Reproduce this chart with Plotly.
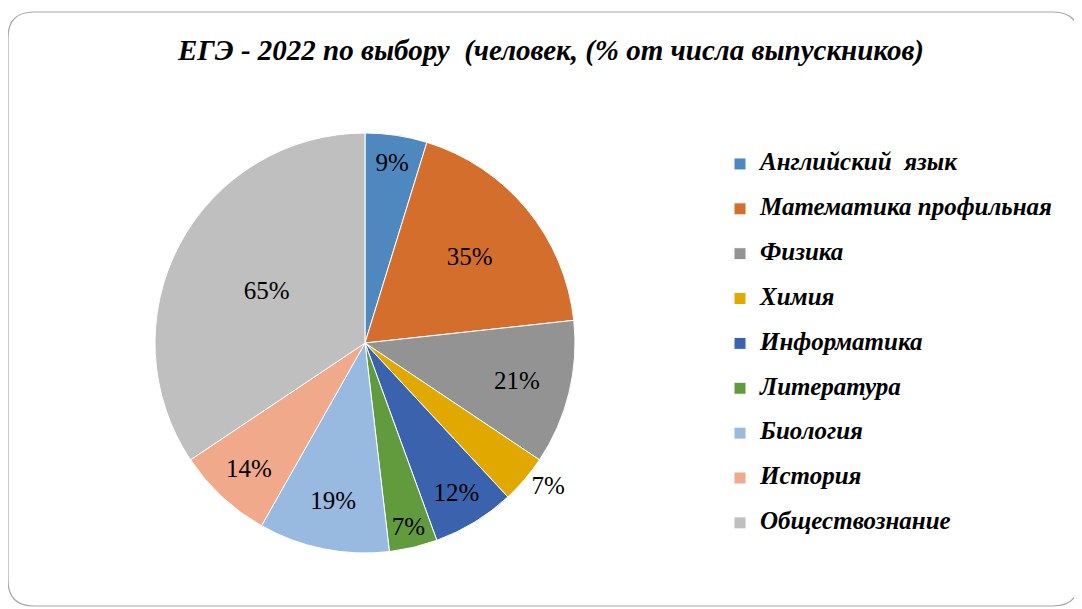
import plotly.graph_objects as go

subjects = ["Английский  язык", "Математика профильная", "Физика", "Химия",
            "Информатика", "Литература", "Биология", "История", "Обществознание"]
percents = [9, 35, 21, 7, 12, 7, 19, 14, 65]
colors = ["#4F88BF", "#D46E2C", "#939393", "#E1A800", "#3B63AD",
          "#629A3E", "#98B9E0", "#F0A98A", "#BFBFBF"]
positions = ["inside", "inside", "inside", "outside", "inside",
             "inside", "inside", "inside", "inside"]
title_text = "ЕГЭ - 2022 по выбору  (человек, (% от числа выпускников)"

SERIF = "Liberation Serif, Times New Roman, Tinos, DejaVu Serif, serif"
W, H = 1082, 609
OFF = 8  # page body margin
def px(x): return (x - OFF) / W
def py(y): return 1 - (y - OFF) / H

legend_names = [f"<span style='font-size:25px'>{s}</span><br> " for s in subjects]

fig = go.Figure(go.Pie(
    labels=legend_names,
    values=percents,
    text=[f"{p}%" for p in percents],
    textinfo="text",
    textposition=positions,
    insidetextorientation="horizontal",
    sort=False,
    direction="clockwise",
    rotation=0,
    marker=dict(colors=colors, line=dict(color="white", width=1)),
    textfont=dict(family=SERIF, size=25, color="black"),
    hoverinfo="skip",
    domain=dict(x=[px(155), px(575)], y=[py(553), py(133)]),
))

# rounded frame
x0, y0, x1, y1, r = 8, 12, 1079, 606, 26
path = (f"M {px(x0 + r)},{py(y0)} L {px(x1 - r)},{py(y0)} "
        f"Q {px(x1)},{py(y0)} {px(x1)},{py(y0 + r)} "
        f"L {px(x1)},{py(y1 - r)} Q {px(x1)},{py(y1)} {px(x1 - r)},{py(y1)} "
        f"L {px(x0 + r)},{py(y1)} Q {px(x0)},{py(y1)} {px(x0)},{py(y1 - r)} "
        f"L {px(x0)},{py(y0 + r)} Q {px(x0)},{py(y0)} {px(x0 + r)},{py(y0)} Z")

fig.update_layout(
    width=W, height=H,
    margin=dict(l=0, r=0, t=0, b=0),
    paper_bgcolor="white",
    plot_bgcolor="white",
    title=dict(text=title_text, x=px(551), xanchor="center", y=py(50), yanchor="middle",
               font=dict(family=SERIF, size=29, color="black",
                         weight="bold", style="italic")),
    showlegend=True,
    legend=dict(x=px(720), xanchor="left", y=py(147), yanchor="top",
                font=dict(family=SERIF, size=16.1, color="black",
                          weight="bold", style="italic"),
                valign="top", bgcolor="rgba(0,0,0,0)", borderwidth=0),
    uniformtext=dict(minsize=25, mode="show"),
    shapes=[dict(type="path", path=path, xref="paper", yref="paper",
                 line=dict(color="#A6A6A6", width=1.2), layer="below")],
)

fig.write_html("out.html")
